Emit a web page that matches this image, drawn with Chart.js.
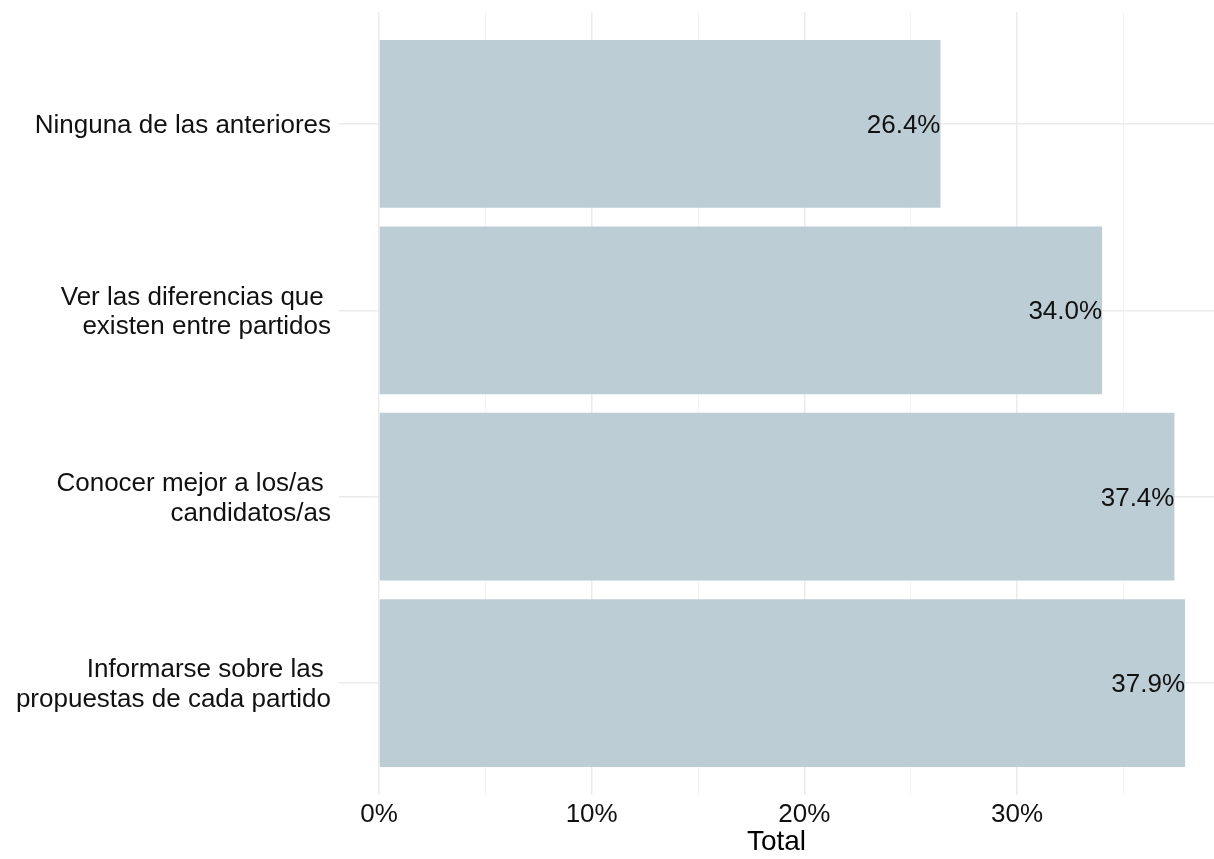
<!DOCTYPE html>
<html>
<head>
<meta charset="utf-8">
<script src="https://cdn.jsdelivr.net/npm/chart.js@4/dist/chart.umd.min.js"></script>
<style>
    html, body { margin: 0; padding: 0; background: #fff; }
    #wrap { width: 1214px; height: 859px; }
</style>
</head>
<body>
<div id="wrap"><canvas id="TotalBarChart" width="1214" height="859"></canvas></div>
<script>
// answers, listed top to bottom as they show on the chart
var Categories = [
    ['Ninguna de las anteriores'],
    ['Ver las diferencias que ', 'existen entre partidos'],
    ['Conocer mejor a los/as ', 'candidatos/as'],
    ['Informarse sobre las ', 'propuestas de cada partido']
];
var Values = [26.4, 34.0, 37.4, 37.9];
var MajorTicks = [0, 10, 20, 30];
var MinorTicks = [5, 15, 25, 35];

var FontName = '"Liberation Sans", Arial, sans-serif';

// category i sits at position n - i on the y scale (first one on top)
function CategoryPos(i) {
    return Categories.length - i;
}

// value labels written inside the end of each bar
var BarLabels = {
    id: 'barLabels',
    afterDatasetsDraw: function (chart) {
        var ctx = chart.ctx;
        var meta = chart.getDatasetMeta(0);
        ctx.save();
        ctx.font = '26px ' + FontName;
        ctx.fillStyle = '#111';
        ctx.textAlign = 'right';
        ctx.textBaseline = 'middle';
        meta.data.forEach(function (bar, i) {
            ctx.fillText(Values[i].toFixed(1) + '%', bar.x, bar.y + 2);
        });
        ctx.restore();
    }
};

function NoPadding(scale) {
    scale.paddingTop = 0;
    scale.paddingBottom = 0;
    scale.paddingLeft = 0;
    scale.paddingRight = 0;
}

DrawTotalChart();

function DrawTotalChart() {
    var ctx = document.getElementById('TotalBarChart').getContext('2d');
    window.MyTotalChart = new Chart(ctx, {
        type: 'bar',
        data: {
            datasets: [{
                data: Values.map(function (v, i) { return { x: v, y: CategoryPos(i) }; }),
                backgroundColor: '#bccdd6',
                borderWidth: 0,
                barPercentage: 0.9,
                categoryPercentage: 1
            }]
        },
        options: {
            indexAxis: 'y',
            responsive: false,
            animation: false,
            layout: { padding: { top: 12, right: 0, bottom: 0, left: 0 } },
            plugins: {
                legend: { display: false },
                tooltip: { enabled: false }
            },
            scales: {
                x: {
                    type: 'linear',
                    min: -1.88,
                    max: 39.26,
                    afterBuildTicks: function (scale) {
                        scale.ticks = MajorTicks.concat(MinorTicks).sort(function (a, b) { return a - b; })
                            .map(function (v) { return { value: v }; });
                    },
                    afterFit: function (scale) {
                        scale.height = 64;
                        NoPadding(scale);
                    },
                    border: { display: false },
                    grid: {
                        drawTicks: false,
                        color: function (c) {
                            return MajorTicks.indexOf(c.tick.value) >= 0 ? '#ebebeb' : '#f3f3f3';
                        },
                        lineWidth: function (c) {
                            return MajorTicks.indexOf(c.tick.value) >= 0 ? 1.5 : 1;
                        }
                    },
                    ticks: {
                        autoSkip: false,
                        maxRotation: 0,
                        padding: 4,
                        color: '#111',
                        font: { family: FontName, size: 26 },
                        callback: function (value) {
                            return MajorTicks.indexOf(value) >= 0 ? value + '%' : '';
                        }
                    },
                    title: {
                        display: true,
                        text: 'Total',
                        color: '#000',
                        padding: 0,
                        font: { family: FontName, size: 28 }
                    }
                },
                y: {
                    type: 'linear',
                    min: 0.4,
                    max: 4.6,
                    offset: false,
                    afterBuildTicks: function (scale) {
                        scale.ticks = Categories.map(function (c, i) { return { value: CategoryPos(i) }; });
                    },
                    afterFit: function (scale) {
                        scale.width = 339;
                        NoPadding(scale);
                    },
                    border: { display: false },
                    grid: {
                        offset: false,
                        drawTicks: false,
                        color: '#ebebeb',
                        lineWidth: 1.5
                    },
                    ticks: {
                        autoSkip: false,
                        padding: 8,
                        labelOffset: 2,
                        color: '#111',
                        font: { family: FontName, size: 26, lineHeight: 1.15 },
                        callback: function (value) {
                            return Categories[Categories.length - value];
                        }
                    }
                }
            }
        },
        plugins: [BarLabels]
    });
}
</script>
</body>
</html>
